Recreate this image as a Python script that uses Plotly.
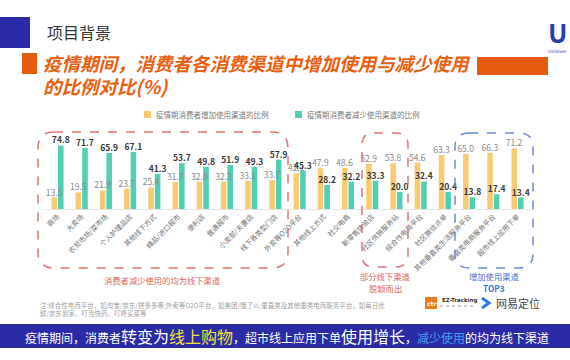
import plotly.graph_objects as go

categories = ["商场", "大卖场", "农贸市场/菜市场", "个人护理品店", "其他线下方式",
              "精品/进口超市", "便利店", "普通超市", "小卖部/夫妻店", "线下各类型门店",
              "外卖等O2O平台", "其他线上方式", "社交电商", "新零售体验店", "社区供销服务站",
              "综合性电商平台", "社区微信点单", "其他垂直类生活服务平台", "垂直类电商服务平台",
              "超市线上应用下单"]
increase = [13.5, 19.5, 21.9, 23.7, 25.4, 31.7, 32.0, 32.3, 33.1, 33.7,
            42.1, 47.9, 48.6, 52.9, 53.8, 54.6, 63.3, 65.0, 66.3, 71.2]
decrease = [74.8, 71.7, 65.9, 67.1, 41.3, 53.7, 49.8, 51.9, 49.3, 57.9,
            45.3, 28.2, 32.2, 33.3, 20.0, 32.4, 20.4, 13.8, 17.4, 13.4]
series_names = ["疫情期消费者增加使用渠道的比例", "疫情期消费者减少使用渠道的比例"]

W, H = 570, 360
FONT = "Noto Sans CJK SC"
YELLOW = "#F8CB72"
TEAL = "#50CFB2"
ORANGE = "#E8600F"
NAVY = "#2B2BA6"
RED = "#E07474"
BLUE = "#6B8DD6"


def px(x):
    return x / W


def py(y):
    return 1 - y / H


def rrect(x0, y0, x1, y1, r):
    X = lambda v: f"{px(v):.5f}"
    Y = lambda v: f"{py(v):.5f}"
    return (f"M {X(x0 + r)},{Y(y0)} L {X(x1 - r)},{Y(y0)} Q {X(x1)},{Y(y0)} {X(x1)},{Y(y0 + r)} "
            f"L {X(x1)},{Y(y1 - r)} Q {X(x1)},{Y(y1)} {X(x1 - r)},{Y(y1)} "
            f"L {X(x0 + r)},{Y(y1)} Q {X(x0)},{Y(y1)} {X(x0)},{Y(y1 - r)} "
            f"L {X(x0)},{Y(y0 + r)} Q {X(x0)},{Y(y0)} {X(x0 + r)},{Y(y0)} Z")


BW = 0.23
OFF_A, OFF_B = -0.25, 0.02

fig = go.Figure()
# bars
fig.add_trace(go.Bar(x=categories, y=increase, name=series_names[0], marker_color=YELLOW,
                     width=BW, offset=OFF_A, marker_line_width=0))
fig.add_trace(go.Bar(x=categories, y=decrease, name=series_names[1], marker_color=TEAL,
                     width=BW, offset=OFF_B, marker_line_width=0))
# value labels (drawn on top of all bars)
fig.add_trace(go.Bar(x=categories, y=increase, width=BW, offset=OFF_A,
                     marker_color="rgba(0,0,0,0)", marker_line_width=0,
                     texttemplate="%{y:.1f}", textposition="outside",
                     textfont=dict(family=FONT, size=8.5, color="#8a8a8a"),
                     constraintext="none", cliponaxis=False, hoverinfo="skip", showlegend=False))
fig.add_trace(go.Bar(x=categories, y=decrease, width=BW, offset=OFF_B,
                     marker_color="rgba(0,0,0,0)", marker_line_width=0,
                     texttemplate="<b>%{y:.1f}</b>", textposition="outside",
                     textfont=dict(family=FONT, size=8.5, color="#3a3a3a"),
                     constraintext="none", cliponaxis=False, hoverinfo="skip", showlegend=False))

shapes = []
annotations = []

# header
shapes.append(dict(type="rect", xref="paper", yref="paper", x0=px(0), x1=px(30), y0=py(48), y1=py(17),
                   fillcolor=NAVY, line_width=0))
annotations.append(dict(text="项目背景", x=px(45), y=py(32), xref="paper", yref="paper",
                        xanchor="left", yanchor="middle", showarrow=False,
                        font=dict(family=FONT, size=16, color="#333333")))
# logo
annotations.append(dict(text="<b>U</b>", x=px(569), y=py(31), xref="paper", yref="paper",
                        xanchor="right", yanchor="middle", showarrow=False,
                        font=dict(family=FONT, size=26, color="#2340A8")))
annotations.append(dict(text="Unilever", x=px(569), y=py(52), xref="paper", yref="paper",
                        xanchor="right", yanchor="middle", showarrow=False,
                        font=dict(family="DejaVu Sans", size=4.5, color="#2340A8")))

# title
shapes.append(dict(type="rect", xref="paper", yref="paper", x0=px(22), x1=px(37), y0=py(74), y1=py(53),
                   fillcolor="#E55B0E", line_width=0))
shapes.append(dict(type="rect", xref="paper", yref="paper", x0=px(477), x1=px(548), y0=py(75), y1=py(57),
                   fillcolor="#E55B0E", line_width=0))
annotations.append(dict(text="<b><i>疫情期间，消费者各消费渠道中增加使用与减少使用</i></b>",
                        x=px(41), y=py(63), xref="paper", yref="paper",
                        xanchor="left", yanchor="middle", showarrow=False,
                        font=dict(family=FONT, size=18.5, color=ORANGE)))
annotations.append(dict(text="<b><i>的比例对比(%)</i></b>",
                        x=px(41), y=py(86), xref="paper", yref="paper",
                        xanchor="left", yanchor="middle", showarrow=False,
                        font=dict(family=FONT, size=18.5, color=ORANGE)))

# legend
for (sx, col, name) in [(144, YELLOW, series_names[0]), (295, TEAL, series_names[1])]:
    shapes.append(dict(type="rect", xref="paper", yref="paper", x0=px(sx), x1=px(sx + 7),
                       y0=py(118), y1=py(111), fillcolor=col, line_width=0))
    annotations.append(dict(text=name, x=px(sx + 10), y=py(114.5), xref="paper", yref="paper",
                            xanchor="left", yanchor="middle", showarrow=False,
                            font=dict(family=FONT, size=7.5, color="#7a7a7a")))

# dashed boxes
shapes.append(dict(type="path", xref="paper", yref="paper", path=rrect(38, 132, 288, 268, 16),
                   line=dict(color=RED, width=1.5, dash="dash")))
shapes.append(dict(type="path", xref="paper", yref="paper", path=rrect(362, 133, 408, 267, 12),
                   line=dict(color=RED, width=1.5, dash="dash")))
shapes.append(dict(type="path", xref="paper", yref="paper", path=rrect(455, 133, 533, 268, 14),
                   line=dict(color=BLUE, width=1.5, dash="dash")))

annotations.append(dict(text="消费者减少使用的均为线下渠道", x=px(162), y=py(280), xref="paper", yref="paper",
                        xanchor="center", yanchor="middle", showarrow=False,
                        font=dict(family=FONT, size=8.3, color="#E06565")))
annotations.append(dict(text="部分线下渠道", x=px(385), y=py(276), xref="paper", yref="paper",
                        xanchor="center", yanchor="middle", showarrow=False,
                        font=dict(family=FONT, size=8.3, color="#E06565")))
annotations.append(dict(text="脱颖而出", x=px(385), y=py(288), xref="paper", yref="paper",
                        xanchor="center", yanchor="middle", showarrow=False,
                        font=dict(family=FONT, size=8.3, color="#E06565")))
annotations.append(dict(text="增加使用渠道", x=px(494), y=py(276), xref="paper", yref="paper",
                        xanchor="center", yanchor="middle", showarrow=False,
                        font=dict(family=FONT, size=8.3, color="#4C72D0")))
annotations.append(dict(text="<b>TOP3</b>", x=px(494), y=py(288), xref="paper", yref="paper",
                        xanchor="center", yanchor="middle", showarrow=False,
                        font=dict(family=FONT, size=8.3, color="#4C72D0")))

# footnote
annotations.append(dict(
    text="注:综合性电商平台，如淘宝/京东/拼多多等;外卖等O2O平台，如美团/饿了么;垂直类及其他垂类电商服务平台，如每日优<br>鲜/京东到家、叮当快药、叮咚买菜等",
    x=px(38), y=py(298), xref="paper", yref="paper", xanchor="left", yanchor="top",
    align="left", showarrow=False, font=dict(family=FONT, size=6.5, color="#a0a0a0")))

# source logos
shapes.append(dict(type="rect", xref="paper", yref="paper", x0=px(425), x1=px(437), y0=py(309), y1=py(297),
                   fillcolor="#EE7A22", line_width=0))
annotations.append(dict(text="<b>ctr</b>", x=px(431), y=py(303), xref="paper", yref="paper",
                        xanchor="center", yanchor="middle", showarrow=False,
                        font=dict(family="DejaVu Sans", size=6, color="white")))
annotations.append(dict(text="<b>EZ-Tracking</b>", x=px(440), y=py(300), xref="paper", yref="paper",
                        xanchor="left", yanchor="middle", showarrow=False,
                        font=dict(family="DejaVu Sans", size=5.5, color="#333333")))
shapes.append(dict(type="line", xref="paper", yref="paper", x0=px(440), x1=px(476), y0=py(306), y1=py(306),
                   line=dict(color="#999999", width=1.2, dash="dot")))
shapes.append(dict(type="path", xref="paper", yref="paper",
                   path=f"M {px(482)},{py(298)} L {px(489)},{py(303)} L {px(482)},{py(308)}",
                   line=dict(color="#2F7BE0", width=3)))
annotations.append(dict(text="网易定位", x=px(494), y=py(303), xref="paper", yref="paper",
                        xanchor="left", yanchor="middle", showarrow=False,
                        font=dict(family=FONT, size=11, color="#444444")))

# bottom band
shapes.append(dict(type="rect", xref="paper", yref="paper", x0=0, x1=1, y0=py(348), y1=py(324),
                   fillcolor=NAVY, line_width=0, layer="below"))
band = ('<span style="font-size:12px">疫情期间，消费者</span>'
        '<span style="font-size:16px">转变为</span>'
        '<span style="font-size:16px;fill:#F2E13A">线上购物</span>'
        '<span style="font-size:12px">，超市线上应用下单</span>'
        '<span style="font-size:16px">使用增长</span>'
        '<span style="font-size:12px">，</span>'
        '<span style="font-size:12px;fill:#3FA0F0">减少使用</span>'
        '<span style="font-size:12px">的均为线下渠道</span>')
annotations.append(dict(text=band, x=px(23), y=py(336), xref="paper", yref="paper",
                        xanchor="left", yanchor="middle", showarrow=False,
                        font=dict(family=FONT, size=12, color="white")))

fig.update_layout(
    width=W, height=H,
    margin=dict(l=0, r=0, t=0, b=0),
    paper_bgcolor="white", plot_bgcolor="white",
    barmode="overlay",
    showlegend=False,
    shapes=shapes, annotations=annotations,
    xaxis=dict(domain=[45.4 / W, 529.6 / W], type="category", range=[-0.5, 19.5],
               tickangle=-45, tickfont=dict(family=FONT, size=7, color="#707070"),
               showline=True, linecolor="#e4e4e4", linewidth=1, ticks="", showgrid=False,
               automargin=False, fixedrange=True),
    yaxis=dict(domain=[(H - 209) / H, (H - 124) / H], range=[0, 100], visible=False,
               automargin=False, fixedrange=True),
)

fig.write_html("out.html", config={"displayModeBar": False},
               post_script="document.body.style.margin='0';document.body.style.overflow='hidden';")
